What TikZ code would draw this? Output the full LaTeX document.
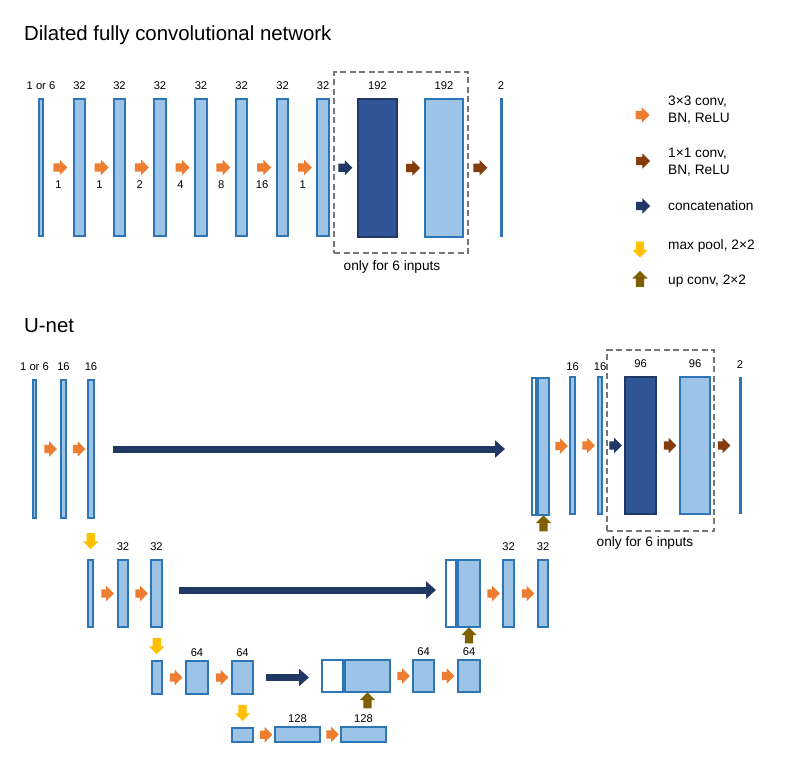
\documentclass[tikz,border=0pt]{standalone}
\usepackage{fontspec}
\setmainfont{Liberation Sans}
\usetikzlibrary{positioning, calc, shapes.arrows, arrows.meta}
\definecolor{nnLight}{HTML}{9DC3E6}
\definecolor{nnEdge}{HTML}{2E75B6}
\definecolor{nnDark}{HTML}{2F5597}
\definecolor{nnDarkEdge}{HTML}{203864}
\definecolor{nnOrange}{HTML}{ED7D31}
\definecolor{nnBrown}{HTML}{843C0C}
\definecolor{nnNavy}{HTML}{203864}
\definecolor{nnYellow}{HTML}{FFC000}
\definecolor{nnOlive}{HTML}{7F6000}
\definecolor{nnGray}{HTML}{767676}

\tikzset{
  lbox/.style={draw=nnEdge, fill=nnLight, line width=2pt, inner sep=0pt},
  dbox/.style={draw=nnDarkEdge, fill=nnDark, line width=2pt, inner sep=0pt},
  wbox/.style={draw=nnEdge, fill=white, line width=2pt, inner sep=0pt},
  lbl/.style={font=\fontsize{11.2}{13}\selectfont, inner sep=0pt},
  txt/.style={font=\fontsize{13.7}{17.5}\selectfont, inner sep=0pt, align=left},
  title/.style={font=\fontsize{20.4}{24}\selectfont, inner sep=0pt},
  blockarr/.style={single arrow, draw=none, inner sep=0pt, text height=8pt,
    text depth=0pt, single arrow head extend=3.5pt, minimum height=14pt},
  convarr/.style={blockarr, fill=nnOrange},
  onearr/.style={blockarr, fill=nnBrown},
  catarr/.style={blockarr, fill=nnNavy},
  poolarr/.style={blockarr, fill=nnYellow, minimum height=16pt, rotate=-90},
  uparr/.style={blockarr, fill=nnOlive, minimum height=16pt, rotate=90},
  short/.style={minimum height=12.5pt},
  catline/.style={draw=nnNavy, line width=7pt, -{Triangle[length=10pt,width=17pt]}},
  optbox/.style={draw=nnGray, line width=1.8pt, dash pattern=on 6pt off 3.5pt, inner sep=0pt}
}

\begin{document}
\begin{tikzpicture}[x=1pt, y=-1pt, label distance=8pt]
\useasboundingbox (0,0) rectangle (796,779);

% dilated network
\node[title, anchor=base west] (ttl1) at (24,41) {Dilated fully convolutional network};

\node[lbox, minimum width=4pt, minimum height=137pt, label={[lbl]above:1 or 6}] (d1) at (41,167.5) {};
\foreach \n/\x in {d2/79.5, d3/119.5, d4/160, d5/201, d6/241.5, d7/282.5, d8/323}
  \node[lbox, minimum width=11.5pt, minimum height=137pt, label={[lbl]above:32}] (\n) at (\x,167.5) {};
\node[dbox, minimum width=39pt, minimum height=138pt, label={[lbl]above:192}] (d9) at (377.5,168) {};
\node[lbox, minimum width=38pt, minimum height=138pt, label={[lbl]above:192}] (d10) at (444,168) {};
\node[lbox, minimum width=1pt, minimum height=137pt, label={[lbl]above:2}] (d11) at (501,167.5) {};

\foreach \a/\b/\r [count=\i] in {d1/d2/1, d2/d3/1, d3/d4/2, d4/d5/4, d5/d6/8, d6/d7/16, d7/d8/1}
  \node[convarr, label={[lbl,yshift=-1pt]below:\r}] (ad\i) at ($(\a.east)!0.5!(\b.west)$) {};
\node[catarr] (ad8) at ($(d8.east)!0.5!(d9.west)$) {};
\node[onearr] (ad9) at ($(d9.east)!0.5!(d10.west)$) {};
\node[onearr] (ad10) at ($(d10.east)!0.4!(d11.west)$) {};

\node[optbox, minimum width=134pt, minimum height=181pt] (opt1) at (401,162.5) {};
\node[txt] (note1) at (392,267) {only for 6 inputs};

% legend
\node[convarr] (lg1) at (640.5,115) {};
\node[onearr] (lg2) at (641,161) {};
\node[catarr] (lg3) at (641,206) {};
\node[poolarr] (lg4) at (640,247.5) {};
\node[uparr] (lg5) at (640,281) {};
\node[txt, anchor=west] (lt1) at (668,110) {3×3 conv,\\BN, ReLU};
\node[txt, anchor=west] (lt2) at (668,162) {1×1 conv,\\BN, ReLU};
\node[txt, anchor=west] (lt3) at (668,206) {concatenation};
\node[txt, anchor=west] (lt4) at (668,246) {max pool, 2×2};
\node[txt, anchor=west] (lt5) at (668,281) {up conv, 2×2};

% u-net
\node[title, anchor=base west] (ttl2) at (24,332) {U-net};

% level 1
\node[lbox, minimum width=3pt, minimum height=138pt, label={[lbl]above:1 or 6}] (u1) at (34.5,449) {};
\node[lbox, minimum width=5pt, minimum height=138pt, label={[lbl]above:16}] (u2) at (63.5,449) {};
\node[lbox, minimum width=6pt, minimum height=138pt, label={[lbl]above:16}] (u3) at (91,449) {};
\node[convarr, short] (au1) at ($(u1.east)!0.5!(u2.west)$) {};
\node[convarr, short] (au2) at ($(u2.east)!0.5!(u3.west)$) {};

\node[wbox, minimum width=4pt, minimum height=137pt] (c1w) at (534,446.5) {};
\node[lbox, minimum width=11pt, minimum height=137pt] (c1) at (543.5,446.5) {};
\node[lbox, minimum width=5pt, minimum height=137pt, label={[lbl,yshift=-3pt]above:16}] (r2) at (572.5,445.5) {};
\node[lbox, minimum width=4pt, minimum height=137pt, label={[lbl,yshift=-3pt]above:16}] (r3) at (600,445.5) {};
\node[dbox, minimum width=31pt, minimum height=137pt, label={[lbl]above:96}] (r4) at (640.5,445.5) {};
\node[lbox, minimum width=30pt, minimum height=137pt, label={[lbl]above:96}] (r5) at (695,445.5) {};
\node[lbox, minimum width=1pt, minimum height=135pt, label={[lbl]above:2}] (r6) at (740,445.5) {};
\node[convarr, short] (ar1) at ($(c1.east)!0.5!(r2.west)$) {};
\node[convarr, short] (ar2) at ($(r2.east)!0.5!(r3.west)$) {};
\node[catarr, short] (ar3) at ($(r3.east)!0.5!(r4.west)$) {};
\node[onearr, short] (ar4) at ($(r4.east)!0.5!(r5.west)$) {};
\node[onearr, short] (ar5) at ($(r5.east)!0.4!(r6.west)$) {};

\node[optbox, minimum width=107pt, minimum height=181pt] (opt2) at (660.5,440.5) {};
\node[txt] (note2) at (645,543) {only for 6 inputs};

\draw[catline] ($(u3.east)+(18,0)$) -- ($(c1w.west |- u3.east)+(-26,0)$);

% level 2
\node[lbox, minimum width=5pt, minimum height=67pt] (v1) at (90.5,593.5) {};
\node[lbox, minimum width=10pt, minimum height=67pt, label={[lbl]above:32}] (v2) at (123,593.5) {};
\node[lbox, minimum width=11pt, minimum height=67pt, label={[lbl]above:32}] (v3) at (156.5,593.5) {};
\node[poolarr] (p1) at ($(u3.south)!0.5!(v1.north)$) {};
\node[convarr, short] (av1) at ($(v1.east)!0.5!(v2.west)$) {};
\node[convarr, short] (av2) at ($(v2.east)!0.5!(v3.west)$) {};

\node[wbox, minimum width=10pt, minimum height=67pt] (c2w) at (451,593.5) {};
\node[lbox, minimum width=22pt, minimum height=67pt] (c2) at (469,593.5) {};
\node[lbox, minimum width=11pt, minimum height=67pt, label={[lbl]above:32}] (v4) at (508.5,593.5) {};
\node[lbox, minimum width=10pt, minimum height=67pt, label={[lbl]above:32}] (v5) at (543,593.5) {};
\node[convarr, short] (av3) at ($(c2.east)!0.5!(v4.west)$) {};
\node[convarr, short] (av4) at ($(v4.east)!0.5!(v5.west)$) {};
\node[uparr] (up1) at ($(c1.south)+(0,9.5)$) {};

\draw[catline] ($(v3.east)+(16,-3.5)$) -- ($(c2w.west)+(-9,-3.5)$);

% level 3
\node[lbox, minimum width=10pt, minimum height=33pt] (w1) at (157,677.5) {};
\node[lbox, minimum width=22pt, minimum height=33pt, label={[lbl,yshift=-5pt]above:64}] (w2) at (197,677.5) {};
\node[lbox, minimum width=21pt, minimum height=33pt, label={[lbl,yshift=-5pt]above:64}] (w3) at (242.5,677.5) {};
\node[poolarr] (p2) at ($(v3.south)!0.5!(w1.north)$) {};
\node[convarr, short] (aw1) at ($(w1.east)!0.5!(w2.west)$) {};
\node[convarr, short] (aw2) at ($(w2.east)!0.5!(w3.west)$) {};

\node[wbox, minimum width=21pt, minimum height=32pt] (c3w) at (332.5,676) {};
\node[lbox, minimum width=45pt, minimum height=32pt] (c3) at (367.5,676) {};
\node[lbox, minimum width=21pt, minimum height=32pt, label={[lbl,yshift=-5pt]above:64}] (w4) at (423.5,676) {};
\node[lbox, minimum width=22pt, minimum height=32pt, label={[lbl,yshift=-5pt]above:64}] (w5) at (469,676) {};
\node[convarr, short] (aw3) at ($(c3.east)!0.5!(w4.west)$) {};
\node[convarr, short] (aw4) at ($(w4.east)!0.5!(w5.west)$) {};
\node[uparr] (up2) at ($(c2.south)+(0,9.5)$) {};

\draw[catline] ($(w3.east)+(12,0)$) -- ($(c3w.west |- w3.east)+(-12,0)$);

% level 4
\node[lbox, minimum width=21pt, minimum height=14.5pt] (x1) at (242.5,735) {};
\node[lbox, minimum width=45pt, minimum height=15pt, label={[lbl,yshift=-5pt]above:128}] (x2) at (297.5,734.5) {};
\node[lbox, minimum width=45pt, minimum height=15pt, label={[lbl,yshift=-5pt]above:128}] (x3) at (363.5,734.5) {};
\node[poolarr] (p3) at ($(w3.south)!0.5!(x1.north)$) {};
\node[convarr, short] (ax1) at ($(x1.east)!0.5!(x2.west)$) {};
\node[convarr, short] (ax2) at ($(x2.east)!0.5!(x3.west)$) {};
\node[uparr] (up3) at ($(c3.south)+(0,9.5)$) {};
\end{tikzpicture}
\end{document}
